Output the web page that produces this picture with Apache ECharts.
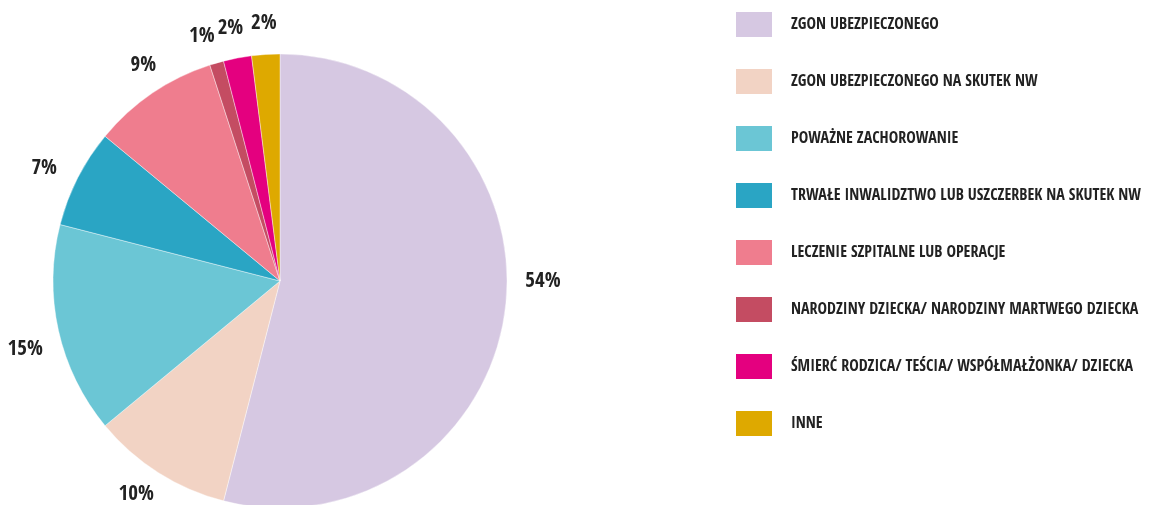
<!DOCTYPE html>
<html>
<head>
<meta charset="utf-8">
<script src="https://cdn.jsdelivr.net/npm/echarts@6/dist/echarts.min.js"></script>
<style>
  html, body { margin: 0; padding: 0; background: #ffffff; }
  #chart { width: 1150px; height: 505px; }
</style>
</head>
<body>
<div id="chart"></div>
<script>
// Kategorie świadczeń i ich udział procentowy
const categories = [
  'ZGON UBEZPIECZONEGO',
  'ZGON UBEZPIECZONEGO NA SKUTEK NW',
  'POWAŻNE ZACHOROWANIE',
  'TRWAŁE INWALIDZTWO LUB USZCZERBEK NA SKUTEK NW',
  'LECZENIE SZPITALNE LUB OPERACJE',
  'NARODZINY DZIECKA/ NARODZINY MARTWEGO DZIECKA',
  'ŚMIERĆ RODZICA/ TEŚCIA/ WSPÓŁMAŁŻONKA/ DZIECKA',
  'INNE'
];
const shares = [54, 10, 15, 7, 9, 1, 2, 2];
const colors = ['#d6c8e2', '#f2d3c4', '#6bc6d5', '#2aa5c4', '#ef7d8e', '#c44c62', '#e4007f', '#dea900'];

// Layout
const FONT = '"Open Sans Condensed", "Roboto Condensed", sans-serif';
const CENTER = [280, 281];
const RADIUS = 227;
const LABEL_RADIUS = 259;
// small hand offsets so the percentage labels don't crowd each other
const LABEL_NUDGE = [[6, -32], [-5, -5], [-2, 12], [-5, 5], [9, -1], [-6, 4], [-1, 2], [0, 1]];

const total = shares.reduce((a, b) => a + b, 0);
// mid-angle of each slice, clockwise from 12 o'clock
const midAngles = [];
let acc = 0;
shares.forEach(v => {
  midAngles.push((acc + v / 2) / total * 2 * Math.PI);
  acc += v;
});

const chart = echarts.init(document.getElementById('chart'), null, { renderer: 'canvas' });
chart.setOption({
  animation: false,
  color: colors,
  legend: {
    orient: 'vertical',
    left: 729,
    top: 5,
    itemWidth: 38,
    itemHeight: 27,
    itemGap: 28,
    icon: 'rect',
    selectedMode: false,
    data: categories,
    textStyle: {
      fontFamily: FONT,
      fontWeight: 'bold',
      fontSize: 16,
      color: '#222222',
      padding: [0, 0, 0, 13]
    }
  },
  series: [{
    type: 'pie',
    center: CENTER,
    radius: RADIUS,
    startAngle: 90,
    clockwise: true,
    avoidLabelOverlap: false,
    silent: true,
    itemStyle: { borderColor: '#ffffff', borderWidth: 0.4 },
    label: {
      show: true,
      position: 'outside',
      formatter: p => p.value + '%',
      fontFamily: FONT,
      fontWeight: 'bold',
      fontSize: 21,
      color: '#222222'
    },
    labelLine: { show: false },
    labelLayout: params => {
      const i = params.dataIndex;
      const a = midAngles[i];
      return {
        x: CENTER[0] + LABEL_RADIUS * Math.sin(a) + LABEL_NUDGE[i][0],
        y: CENTER[1] - LABEL_RADIUS * Math.cos(a) + LABEL_NUDGE[i][1],
        align: 'center',
        verticalAlign: 'middle'
      };
    },
    data: categories.map((name, i) => ({ name, value: shares[i] }))
  }]
});
</script>
</body>
</html>
